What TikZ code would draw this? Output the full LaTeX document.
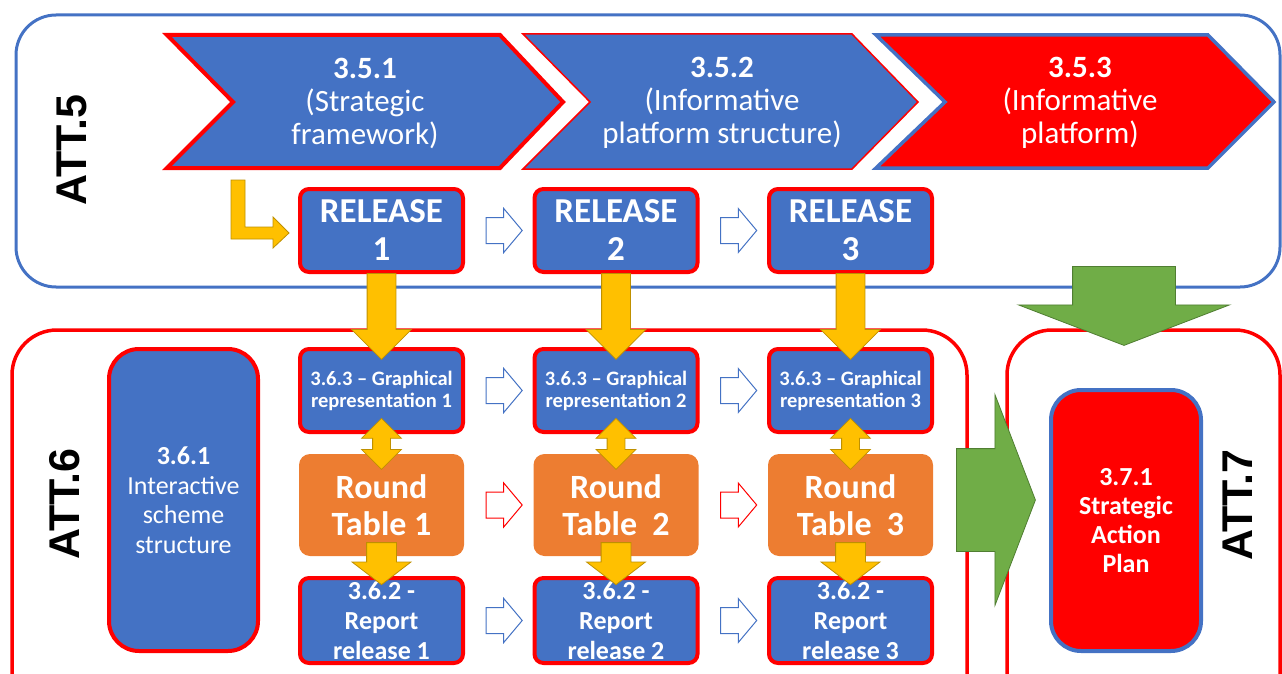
\documentclass[tikz,border=0pt]{standalone}
\usepackage{fontspec}
\setmainfont{Carlito}
\newfontfamily\attfont{Liberation Sans}
\usetikzlibrary{shapes.arrows,positioning,calc}
\definecolor{pblue}{HTML}{4472C4}
\definecolor{pred}{HTML}{FF0000}
\definecolor{porange}{HTML}{ED7D31}
\definecolor{pyellow}{HTML}{FFC000}
\definecolor{pgold}{HTML}{BF9000}
\definecolor{pgreen}{HTML}{70AD47}
\definecolor{pdgreen}{HTML}{507E32}
\tikzset{
  attframe/.style={draw, line width=3pt, rounded corners=40pt, inner sep=0pt},
  attlabel/.style={rotate=90, font=\attfont\bfseries\fontsize{43}{43}\selectfont},
  chev/.style={fill=pblue, line width=4pt, line join=miter},
  chevtext/.style={text=white, align=center, font=\fontsize{31}{33}\selectfont},
  relbox/.style={draw=pred, fill=pblue, line width=4pt, rounded corners=9pt, text=white,
    align=center, inner sep=0pt, minimum width=163pt},
  rtbox/.style={fill=porange, rounded corners=11pt, text=white, align=center, inner sep=0pt,
    minimum width=165pt, minimum height=102pt, font=\bfseries\fontsize{34}{37}\selectfont},
  hollowarr/.style={single arrow, draw=#1, fill=white, line width=1pt, line join=miter, inner xsep=0pt,
    inner ysep=12.5pt, minimum height=36pt, single arrow head extend=9pt, single arrow tip angle=100},
  yelarr/.style={single arrow, rotate=-90, fill=pyellow, draw=pgold, line width=0.8pt,
    inner xsep=0pt, anchor=tail},
  yeldbl/.style={double arrow, rotate=90, fill=pyellow, draw=pgold, line width=0.8pt,
    inner xsep=0pt, inner ysep=8.5pt, minimum height=51pt, double arrow head extend=11pt, double arrow tip angle=90},
  grnarr/.style={single arrow, fill=pgreen, draw=pdgreen, line width=0.8pt, inner xsep=0pt, inner ysep=51pt,
    anchor=tail, minimum height=79pt, single arrow head extend=54pt, single arrow tip angle=138}
}
\begin{document}
\begin{tikzpicture}[x=1pt,y=-1pt]
\useasboundingbox (0,0) rectangle (1282,674);
% the three activity frames
\node[attframe, draw=pblue, minimum width=1264pt, minimum height=272pt] (att5) at (648,151) {};
\node[attframe, draw=pred, line width=3.5pt, rounded corners=45pt, minimum width=955pt, minimum height=410pt] (att6) at (489.5,535) {};
\node[attframe, draw=pred, line width=3.5pt, rounded corners=45pt, minimum width=273pt, minimum height=410pt] (att7) at (1143.5,535) {};
\node[attlabel] (lab5) at (72,150) {ATT.5};
\node[attlabel] (lab6) at (65,504) {ATT.6};
\node[attlabel] (lab7) at (1238,505) {ATT.7};
% chevrons
\draw[chev, draw=pred] (167,35) -- (500,35) -- (563,102) -- (500,168) -- (167,168) -- (233,102) -- cycle;
\draw[chev, draw=pred, line width=1.5pt] (523,34) -- (852,34) -- (918,102) -- (852,169) -- (523,169) -- (590,102) -- cycle;
\draw[chev, fill=pred, draw=pblue, line width=3.5pt] (876,35) -- (1208,35) -- (1274,102) -- (1208,168) -- (876,168) -- (945,102) -- cycle;
\node[chevtext] (c351) at (365,103) {\textbf{3.5.1}\\(Strategic\\framework)};
\node[chevtext] (c352) at (722,103) {\textbf{3.5.2}\\(Informative\\platform structure)};
\node[chevtext] (c353) at (1080,103) {\textbf{3.5.3}\\(Informative\\platform)};
% boxes
\foreach \i/\x/\rlab in {1/381.5/{Table 1},2/616/{Table\ \ 2},3/850.5/{Table\ \ 3}} {
  \node[relbox, minimum height=83pt, font=\bfseries\fontsize{35}{38}\selectfont] (rel\i) at (\x,230.5) {RELEASE\\\i};
  \node[relbox, minimum height=83pt, font=\bfseries\fontsize{20.5}{22}\selectfont] (gr\i) at (\x,390.5) {3.6.3 -- Graphical\\representation \i};
  \node[rtbox] (rt\i) at (\x,505) {Round\\\rlab};
  \node[relbox, minimum height=85pt, font=\bfseries\fontsize{26}{30}\selectfont] (rep\i) at (\x,620.5) {3.6.2 -\\Report\\release \i};
}
\node[relbox, rounded corners=30pt, minimum width=149pt, minimum height=302pt, font=\fontsize{26}{29.5}\selectfont] (s361) at (183.5,500) {\textbf{3.6.1}\\Interactive\\scheme\\structure};
\node[relbox, fill=pred, draw=pblue, rounded corners=30pt, minimum width=150pt, minimum height=261pt, font=\bfseries\fontsize{26}{29}\selectfont] (s371) at (1126,520.5) {3.7.1\\Strategic\\Action\\Plan};
% arrows
\foreach \i/\j in {1/2,2/3} {
  \node[hollowarr=pblue] (hr\i) at ($(rel\i.east)!0.5!(rel\j.west)$) {};
  \node[hollowarr=pblue] (hg\i) at ($(gr\i.east)!0.5!(gr\j.west)$) {};
  \node[hollowarr=pred] (ht\i) at ($(rt\i.east)!0.5!(rt\j.west)$) {};
  \node[hollowarr=pblue] (hp\i) at ($(rep\i.east)!0.5!(rep\j.west)$) {};
}
\foreach \i in {1,2,3} {
  \node[yelarr, inner ysep=14pt, minimum height=86pt, single arrow head extend=15.5pt, single arrow tip angle=90] (ya\i) at ($(rel\i.south)+(0,-1)$) {};
  \node[yeldbl] (yd\i) at ($(gr\i.south)!0.5!(rt\i.north)$) {};
  \node[yelarr, inner ysep=14.5pt, minimum height=42pt, single arrow head extend=14.5pt, single arrow tip angle=105] (yb\i) at ($(rt\i.south)+(0,-14)$) {};
}
\draw[fill=pyellow, draw=pgold, line width=0.8pt] (231,180) -- (245,180) -- (245,227) -- (273,227) -- (273,217) -- (289,233) -- (273,248) -- (273,239) -- (231,239) -- cycle;
\node[grnarr, rotate=-90] (gdown) at (1124,266) {};
\node[grnarr] (gright) at (956,500) {};
\end{tikzpicture}
\end{document}
